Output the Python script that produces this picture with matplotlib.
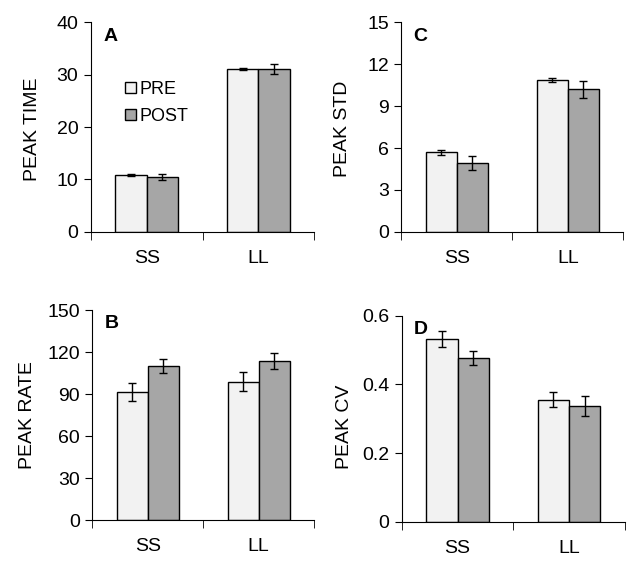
import numpy as np
import matplotlib.pyplot as plt

plt.rcParams['font.family'] = ['Liberation Sans', 'DejaVu Sans']

groups = ['SS', 'LL']

# Panel A - peak time
time_pre = [10.9, 31.1]
time_pre_err = [0.2, 0.2]
time_post = [10.4, 31.1]
time_post_err = [0.6, 0.9]

# Panel C - peak std
std_pre = [5.68, 10.85]
std_pre_err = [0.2, 0.13]
std_post = [4.92, 10.19]
std_post_err = [0.5, 0.6]

# Panel B - peak rate
rate_pre = [91.4, 98.8]
rate_pre_err = [6.3, 6.7]
rate_post = [109.8, 113.8]
rate_post_err = [5.0, 5.6]

# Panel D - peak cv
cv_pre = [0.532, 0.355]
cv_pre_err = [0.023, 0.022]
cv_post = [0.477, 0.338]
cv_post_err = [0.02, 0.029]

pre_color = '#f2f2f2'
post_color = '#a6a6a6'
bw = 0.28

fig = plt.figure(figsize=(6.4, 5.71), dpi=100)


def panel(rect, pre, pre_err, post, post_err, ymax, yticks, ylabel, letter,
          label_xy, legend=False):
    ax = fig.add_axes(rect)
    x = np.arange(len(groups))
    ax.bar(x - bw / 2, pre, bw, color=pre_color, edgecolor='black', linewidth=1, label='PRE')
    ax.bar(x + bw / 2, post, bw, color=post_color, edgecolor='black', linewidth=1, label='POST')
    ax.errorbar(x - bw / 2, pre, yerr=pre_err, fmt='none', ecolor='black', elinewidth=1, capsize=3)
    ax.errorbar(x + bw / 2, post, yerr=post_err, fmt='none', ecolor='black', elinewidth=1, capsize=3)
    ax.set_xlim(-0.5, 1.5)
    ax.set_ylim(0, ymax)
    ax.set_yticks(yticks)
    ax.set_yticklabels([f'{t:g}' for t in yticks])
    ax.set_xticks(x)
    ax.set_xticklabels(groups)
    ax.set_xticks([-0.5, 0.5, 1.5], minor=True)
    ax.tick_params(axis='x', which='major', length=0, pad=13, labelsize=14)
    ax.tick_params(axis='x', which='minor', length=6, direction='out')
    ax.tick_params(axis='y', length=5, direction='out', labelsize=14, pad=4)
    for s in ['top', 'right']:
        ax.spines[s].set_visible(False)
    ax.set_ylabel(ylabel, fontsize=14)
    ax.yaxis.set_label_coords(*label_xy)
    ax.text(0.055, 0.975, letter, transform=ax.transAxes, fontsize=14,
            fontweight='bold', va='top', ha='left')
    if legend:
        ax.legend(loc='upper left', bbox_to_anchor=(0.12, 0.755), frameon=False,
                  fontsize=13, handlelength=0.6, handleheight=0.6,
                  handletextpad=0.2, labelspacing=0.55, borderaxespad=0)
    return ax


panel([0.142, 0.594, 0.349, 0.367], time_pre, time_pre_err, time_post, time_post_err,
      40, [0, 10, 20, 30, 40], 'PEAK TIME', 'A', (-0.225, 0.49), legend=True)
panel([0.627, 0.594, 0.347, 0.367], std_pre, std_pre_err, std_post, std_post_err,
      15, [0, 3, 6, 9, 12, 15], 'PEAK STD', 'C', (-0.225, 0.49))
panel([0.144, 0.089, 0.347, 0.368], rate_pre, rate_pre_err, rate_post, rate_post_err,
      150, [0, 30, 60, 90, 120, 150], 'PEAK RATE', 'B', (-0.255, 0.5))
panel([0.628, 0.086, 0.348, 0.361], cv_pre, cv_pre_err, cv_post, cv_post_err,
      0.6, [0, 0.2, 0.4, 0.6], 'PEAK CV', 'D', (-0.22, 0.46))

fig.savefig('out.png', dpi=100)
